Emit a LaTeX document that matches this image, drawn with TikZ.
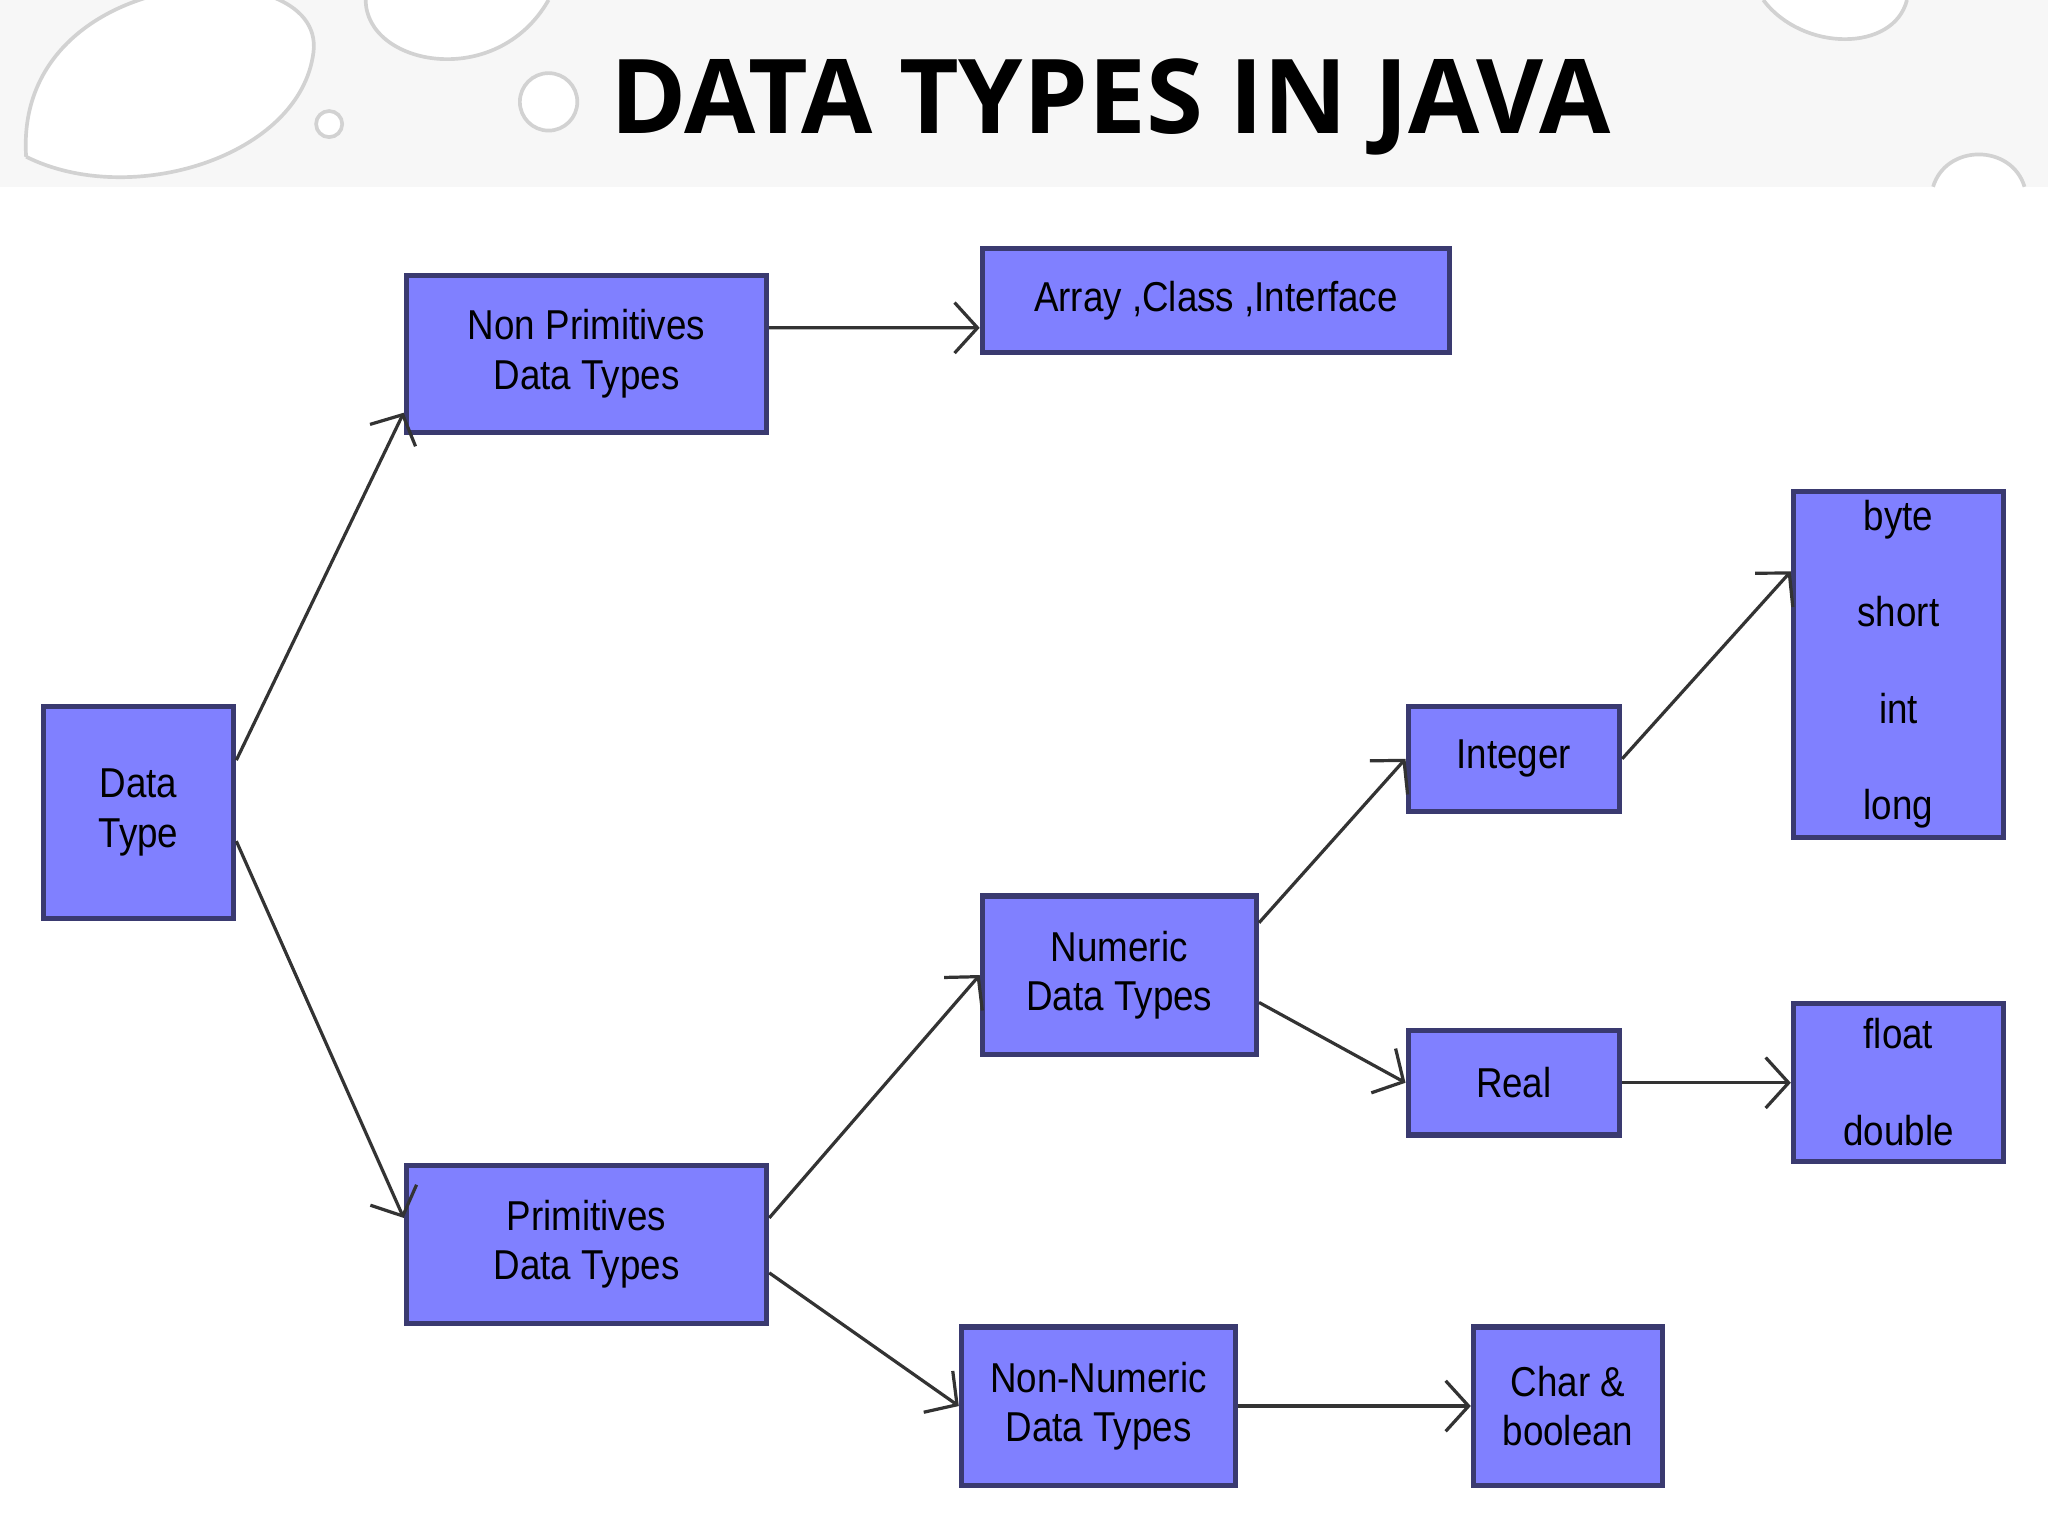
\documentclass[tikz,border=0pt]{standalone}
\usepackage{fontspec}
\setmainfont{Liberation Sans}[FakeStretch=0.88]
\newfontfamily\titlefont{Open Sans}
\usetikzlibrary{calc,arrows.meta}
\definecolor{boxfill}{HTML}{8080FF}
\definecolor{boxline}{HTML}{3A3A70}
\tikzset{
 bx/.style={draw=boxline,fill=boxfill,line width=1.1pt,inner sep=0pt,align=center,font=\fontsize{9.1}{10.8}\selectfont},
 tall/.style={font=\fontsize{9.1}{21}\selectfont},
 ar/.style={-{Straight Barb[length=5pt,width=11pt]},line width=0.7pt,draw=black!80},
 drop/.style={draw=gray!35,fill=white,line width=0.8pt}
}
\newcommand{\bxat}[7][]{\node[bx,#1,minimum width=#5cm-#3cm,minimum height=#6cm-#4cm] (#2) at ({(#3+#5)/2},{-(#4+#6)/2-0.04}) {#7};}
\begin{document}
\begin{tikzpicture}
\useasboundingbox (0,0) rectangle (15.68,-11.76);
\fill[white] (0,0) rectangle (15.68,-11.76);
\fill[gray!6] (0,0) rectangle (15.68,-1.43);
\draw[drop] (0.2,-1.2) .. controls (0.1,0.3) and (2.5,0.4) .. (2.4,-0.4) .. controls (2.3,-1.2) and (1.0,-1.6) .. (0.2,-1.2);
\draw[drop] (2.8,0) .. controls (2.8,-0.5) and (3.8,-0.7) .. (4.2,0);
\draw[drop] (2.52,-0.95) circle (0.1);
\draw[drop] (4.2,-0.78) circle (0.22);
\draw[drop] (13.5,0) .. controls (13.8,-0.4) and (14.5,-0.4) .. (14.6,0);
\draw[drop] (14.8,-1.43) .. controls (14.9,-1.1) and (15.4,-1.1) .. (15.5,-1.43);
\node[font=\titlefont\bfseries\fontsize{22.5}{25}\selectfont,anchor=center] (title) at (8.5,-0.82) {DATA TYPES IN JAVA};
\bxat{np}{3.11}{2.07}{5.87}{3.27}{Non Primitives\\Data Types}
\bxat{arr}{7.52}{1.86}{11.10}{2.66}{Array ,Class ,Interface}
\bxat{dt}{0.33}{5.37}{1.79}{6.99}{Data\\Type}
\bxat{pr}{3.11}{8.88}{5.87}{10.09}{Primitives\\Data Types}
\bxat{num}{7.52}{6.82}{9.62}{8.03}{Numeric\\Data Types}
\bxat{nn}{7.36}{10.12}{9.46}{11.33}{Non-Numeric\\Data Types}
\bxat{int}{10.78}{5.37}{12.40}{6.17}{Integer}
\bxat{real}{10.78}{7.85}{12.40}{8.65}{Real}
\bxat[tall]{byte}{13.73}{3.72}{15.34}{6.37}{byte\\short\\int\\long}
\bxat[tall]{flt}{13.73}{7.64}{15.34}{8.85}{float\\double}
\bxat{chr}{11.28}{10.12}{12.73}{11.33}{Char \&\\boolean}
\draw[ar] ([yshift=0.4cm]dt.east) -- ([yshift=-0.45cm]np.west);
\draw[ar] ([yshift=-0.22cm]dt.east) -- ([yshift=0.2cm]pr.west);
\draw[ar] ([yshift=0.2cm]np.east) -- ([yshift=-0.21cm]arr.west);
\draw[ar] ([yshift=0.2cm]pr.east) -- (num.west);
\draw[ar] ([yshift=-0.22cm]pr.east) -- (nn.west);
\draw[ar] ([yshift=0.4cm]num.east) -- (int.west);
\draw[ar] ([yshift=-0.21cm]num.east) -- (real.west);
\draw[ar] (int.east) -- ([yshift=0.71cm]byte.west);
\draw[ar] (real.east) -- (real.east -| flt.west);
\draw[ar] (nn.east) -- (chr.west);
\end{tikzpicture}
\end{document}
